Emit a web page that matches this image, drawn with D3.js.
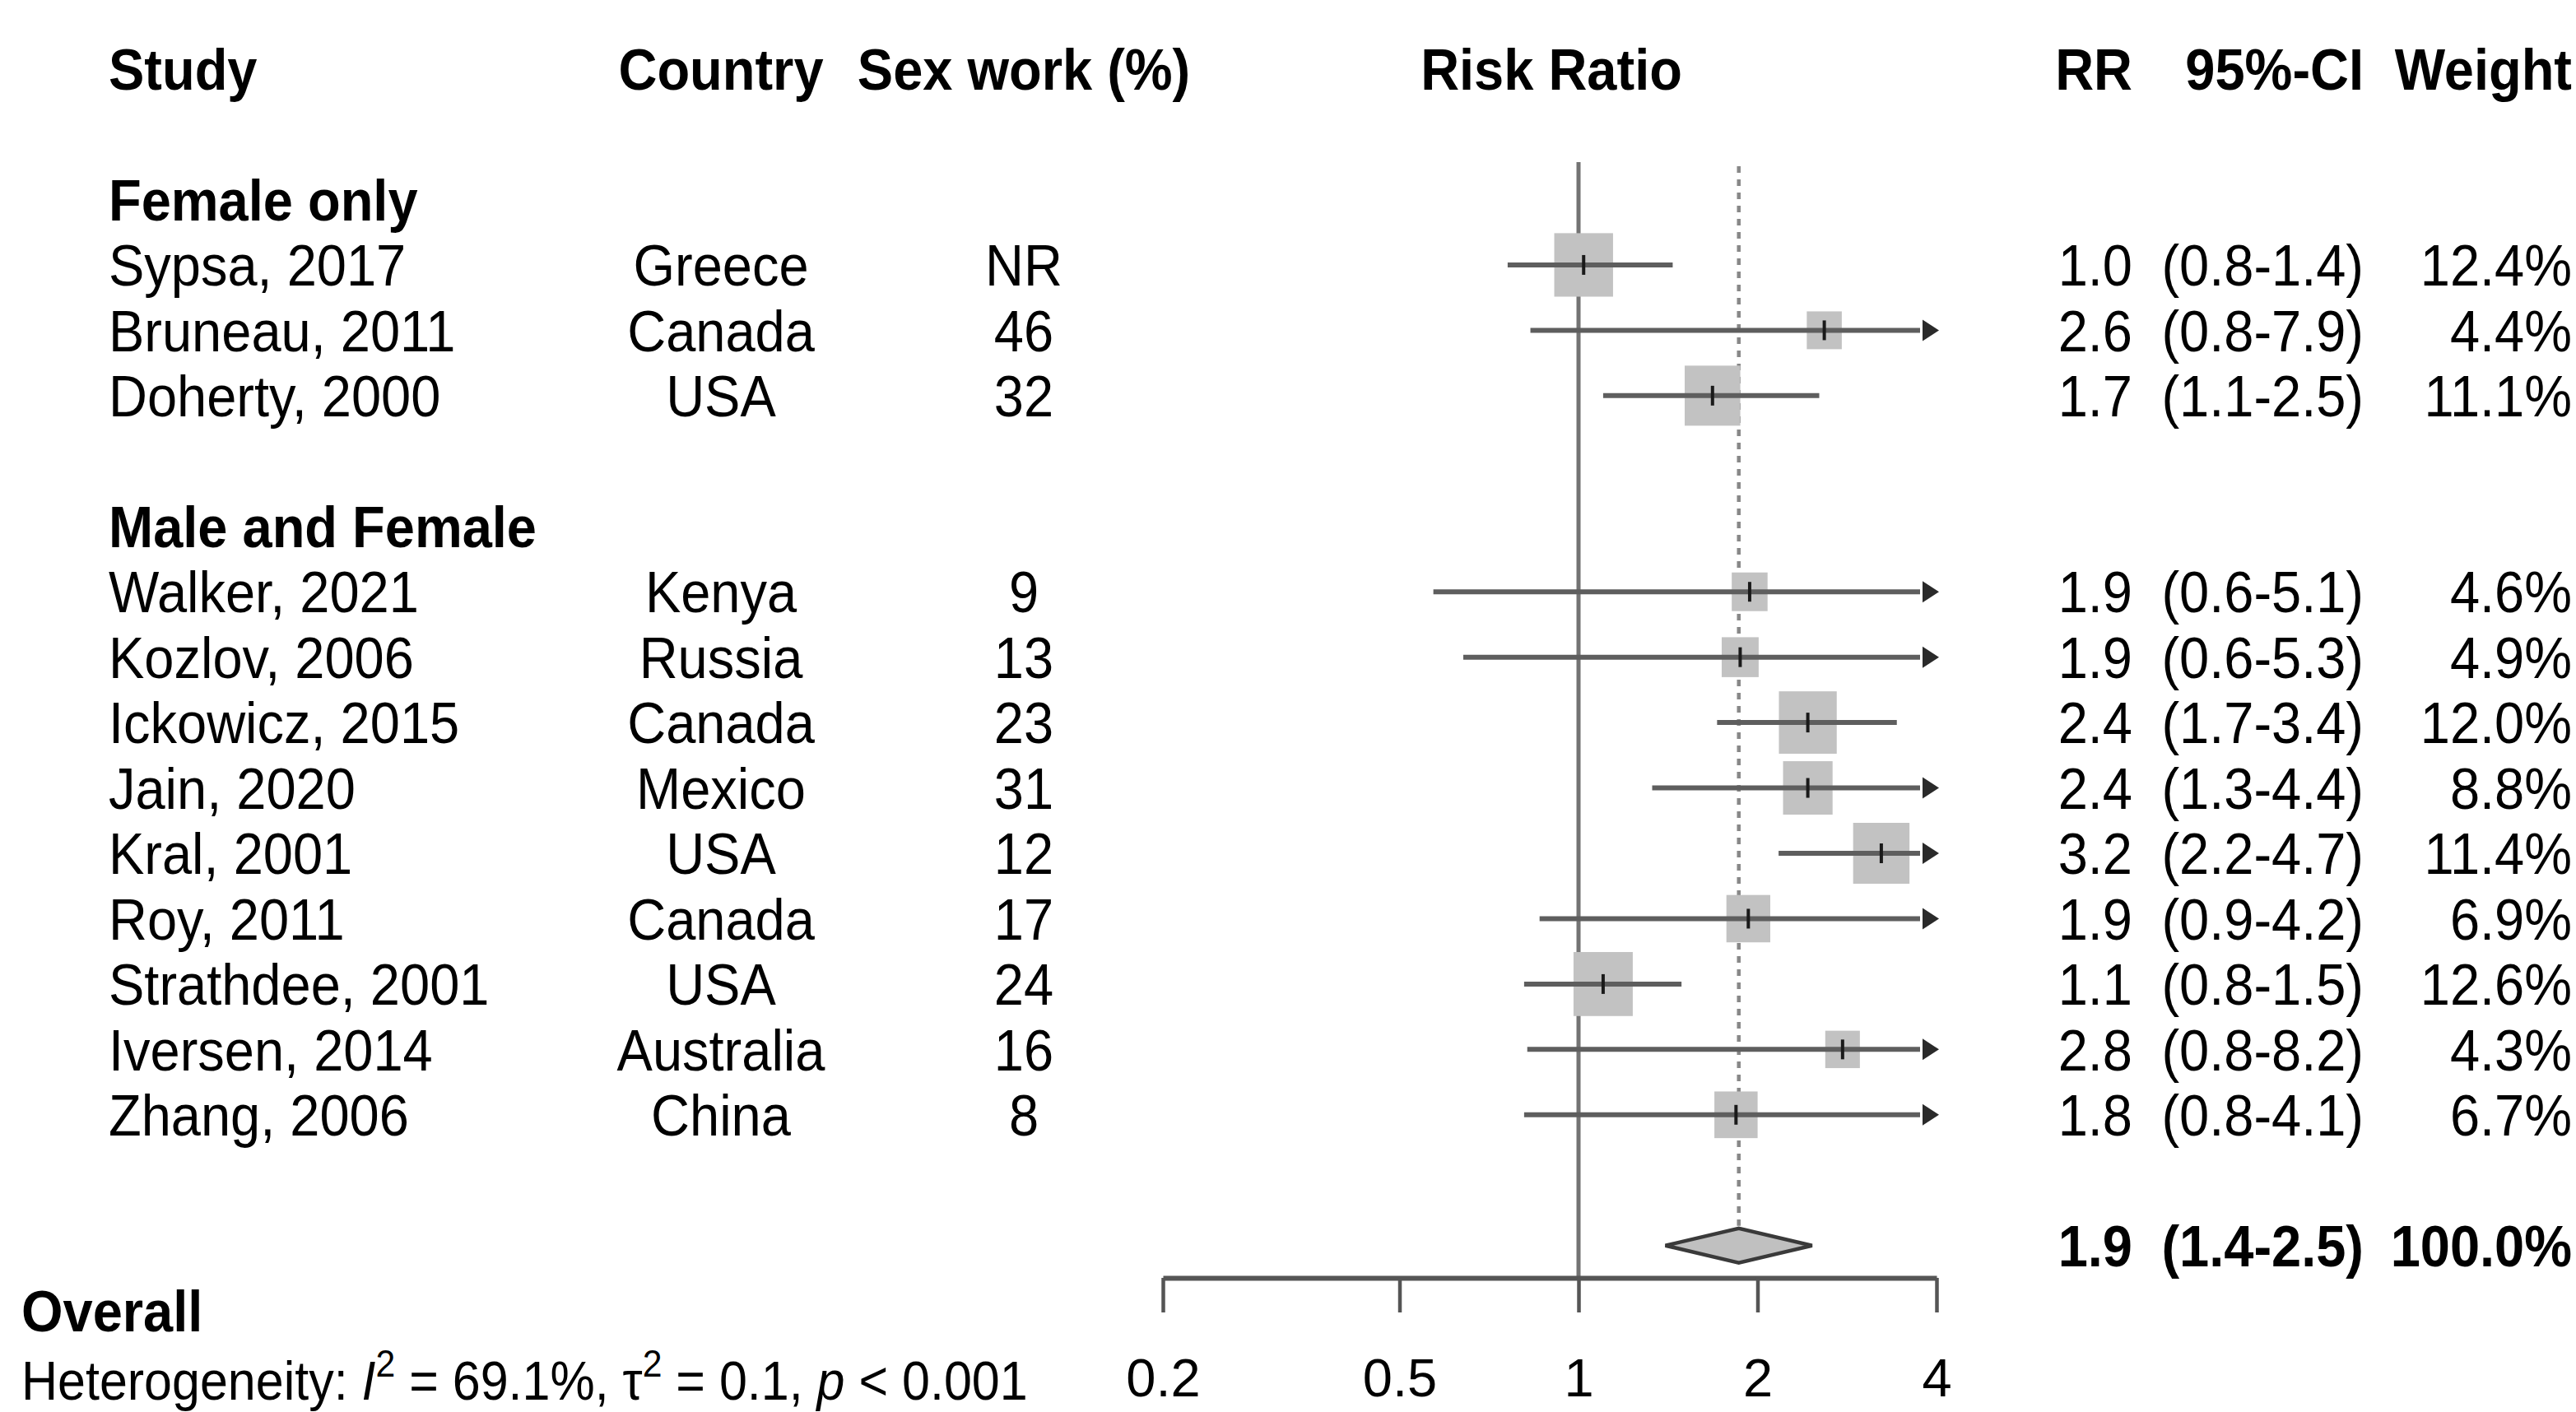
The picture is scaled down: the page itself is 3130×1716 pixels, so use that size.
<!DOCTYPE html>
<html>
<head>
<meta charset="utf-8">
<script src="https://cdn.jsdelivr.net/npm/d3@7"></script>
<style>
  html, body { margin: 0; padding: 0; background: #fff; }
  svg { display: block; }
  text { font-family: "Liberation Sans", Arial, Helvetica, sans-serif; fill: #000; }
</style>
</head>
<body>
<svg id="chart" width="3130" height="1716"></svg>
<script>
// Study rows (row index in the table layout, 0 = column header)
const groups = [
  { label: 'Female only', row: 2 },
  { label: 'Male and Female', row: 7 }
];
const studies = ['Sypsa, 2017', 'Bruneau, 2011', 'Doherty, 2000',
  'Walker, 2021', 'Kozlov, 2006', 'Ickowicz, 2015', 'Jain, 2020', 'Kral, 2001',
  'Roy, 2011', 'Strathdee, 2001', 'Iversen, 2014', 'Zhang, 2006'];
const studyRows = [3, 4, 5, 8, 9, 10, 11, 12, 13, 14, 15, 16];
const countries = ['Greece', 'Canada', 'USA', 'Kenya', 'Russia', 'Canada',
  'Mexico', 'USA', 'Canada', 'USA', 'Australia', 'China'];
const sexWork = ['NR', '46', '32', '9', '13', '23', '31', '12', '17', '24', '16', '8'];
const riskRatio = [1.02, 2.59, 1.68, 1.94, 1.87, 2.43, 2.43, 3.23, 1.93, 1.10, 2.78, 1.84];
const lower = [0.76, 0.83, 1.10, 0.57, 0.64, 1.71, 1.33, 2.17, 0.86, 0.81, 0.82, 0.81];
const upper = [1.44, 7.9, 2.54, 5.1, 5.3, 3.43, 4.4, 4.7, 4.2, 1.49, 8.2, 4.1];
const weights = [12.4, 4.4, 11.1, 4.6, 4.9, 12.0, 8.8, 11.4, 6.9, 12.6, 4.3, 6.7];

const overall = { rr: 1.86, lower: 1.40, upper: 2.47, weight: 100, row: 18 };
const xTicks = [0.2, 0.5, 1, 2, 4];

const headers = [
  { text: 'Study', col: 'study' },
  { text: 'Country', col: 'country' },
  { text: 'Sex work (%)', col: 'sex' },
  { text: 'Risk Ratio', col: 'plot' },
  { text: 'RR', col: 'rr' },
  { text: '95%-CI', col: 'ci' },
  { text: 'Weight', col: 'weight' }
];

// Layout
const W = 3130, H = 1716;
const FS = 65;          // font size in px
const STRETCH = 1.08;   // the source image is slightly taller than wide
const cols = {
  study: { x: 132, anchor: 'start' },
  country: { x: 876, anchor: 'middle' },
  sex: { x: 1244, anchor: 'middle' },
  plot: { x: 1885, anchor: 'middle' },
  rr: { x: 2591, anchor: 'end' },
  ci: { x: 2872, anchor: 'end' },
  weight: { x: 3125, anchor: 'end' }
};

const svg = d3.select('#chart');
svg.append('rect').attr('width', W).attr('height', H).attr('fill', '#fff');

const x = d3.scaleLog().domain([0.2, 4]).range([1413, 2353]);
const y = d3.scaleLinear().domain([0, 19]).range([83.6, 83.6 + 79.45 * 19]);
const side = d3.scaleSqrt().domain([0, 12.6]).range([0, 72]);
const f1 = d3.format('.1f');

// text placed by its vertical centre
function label(g, str, xPos, cy, anchor, bold, size) {
  const s = size || FS;
  return g.append('text')
    .attr('transform', `translate(${xPos},${cy + 0.36 * s * STRETCH}) scale(1,${STRETCH})`)
    .attr('text-anchor', anchor)
    .style('font-size', s + 'px')
    .style('font-weight', bold ? 'bold' : 'normal')
    .text(str);
}

const textG = svg.append('g').attr('class', 'table');

headers.forEach(h => label(textG, h.text, cols[h.col].x, y(0), cols[h.col].anchor, true));
groups.forEach(gr => label(textG, gr.label, cols.study.x, y(gr.row), 'start', true));

studies.forEach((s, i) => {
  const cy = y(studyRows[i]);
  label(textG, s, cols.study.x, cy, 'start', false);
  label(textG, countries[i], cols.country.x, cy, 'middle', false);
  label(textG, sexWork[i], cols.sex.x, cy, 'middle', false);
  label(textG, f1(riskRatio[i]), cols.rr.x, cy, 'end', false);
  label(textG, `(${f1(lower[i])}-${f1(upper[i])})`, cols.ci.x, cy, 'end', false);
  label(textG, f1(weights[i]) + '%', cols.weight.x, cy, 'end', false);
});

// overall row
const oy = y(overall.row);
label(textG, f1(overall.rr), cols.rr.x, oy, 'end', true);
label(textG, `(${f1(overall.lower)}-${f1(overall.upper)})`, cols.ci.x, oy, 'end', true);
label(textG, f1(overall.weight) + '%', cols.weight.x, oy, 'end', true);
label(textG, 'Overall', 26, y(19), 'start', true);

// heterogeneity line with italics and superscripts
const hs = 61;
const het = textG.append('text')
  .attr('transform', `translate(26,1701) scale(1,${STRETCH})`)
  .style('font-size', hs + 'px');
het.append('tspan').text('Heterogeneity: ');
het.append('tspan').style('font-style', 'italic').text('I');
het.append('tspan').attr('dy', -26).style('font-size', (hs * 0.7) + 'px').text('2');
het.append('tspan').attr('dy', 26).text(' = 69.1%, τ');
het.append('tspan').attr('dy', -26).style('font-size', (hs * 0.7) + 'px').text('2');
het.append('tspan').attr('dy', 26).text(' = 0.1, ');
het.append('tspan').style('font-style', 'italic').text('p');
het.append('tspan').text(' < 0.001');

// plot area
const plot = svg.append('g').attr('class', 'plot');

// reference lines: no effect (solid) and overall estimate (dotted)
plot.append('line')
  .attr('x1', x(1)).attr('x2', x(1))
  .attr('y1', 197).attr('y2', 1553)
  .attr('stroke', '#737373').attr('stroke-width', 5);
plot.append('line')
  .attr('x1', x(overall.rr)).attr('x2', x(overall.rr))
  .attr('y1', 202).attr('y2', y(overall.row) - 24)
  .attr('stroke', '#888').attr('stroke-width', 4.5)
  .attr('stroke-dasharray', '8,8');

// squares sized by weight
plot.selectAll('.sq')
  .data(studies)
  .enter().append('rect')
  .attr('class', 'sq')
  .attr('x', (d, i) => x(riskRatio[i]) - side(weights[i]) / 2)
  .attr('y', (d, i) => y(studyRows[i]) - side(weights[i]) * STRETCH / 2)
  .attr('width', (d, i) => side(weights[i]))
  .attr('height', (d, i) => side(weights[i]) * STRETCH)
  .attr('fill', '#c2c2c2');

const xmax = x.domain()[1];
const arrowLen = 20;

// confidence intervals
plot.selectAll('.ci')
  .data(studies)
  .enter().append('line')
  .attr('class', 'ci')
  .attr('x1', (d, i) => x(Math.max(lower[i], x.domain()[0])))
  .attr('x2', (d, i) => upper[i] > xmax ? x(xmax) - arrowLen : x(upper[i]))
  .attr('y1', (d, i) => y(studyRows[i]))
  .attr('y2', (d, i) => y(studyRows[i]))
  .attr('stroke', '#5e5e5e').attr('stroke-width', 6);

// arrows where the interval runs past the axis
plot.selectAll('.arrow')
  .data(studies.filter((d, i) => upper[i] > xmax))
  .enter().append('path')
  .attr('class', 'arrow')
  .attr('d', d => {
    const i = studies.indexOf(d);
    const cy = y(studyRows[i]);
    const xe = x(xmax) + 3;
    return `M${xe - arrowLen},${cy - 13}L${xe},${cy}L${xe - arrowLen},${cy + 13}Z`;
  })
  .attr('fill', '#2a2a2a');

// point estimates
plot.selectAll('.pt')
  .data(studies)
  .enter().append('line')
  .attr('class', 'pt')
  .attr('x1', (d, i) => x(riskRatio[i]))
  .attr('x2', (d, i) => x(riskRatio[i]))
  .attr('y1', (d, i) => y(studyRows[i]) - 12)
  .attr('y2', (d, i) => y(studyRows[i]) + 12)
  .attr('stroke', '#1a1a1a').attr('stroke-width', 4);

// pooled estimate diamond
const dh = 21;
plot.append('path')
  .attr('d', `M${x(overall.lower)},${oy}L${x(overall.rr)},${oy - dh}L${x(overall.upper)},${oy}L${x(overall.rr)},${oy + dh}Z`)
  .attr('fill', '#c0c0c0')
  .attr('stroke', '#3a3a3a')
  .attr('stroke-width', 4.5);

// x axis
const axis = plot.append('g')
  .attr('transform', 'translate(0,1553)')
  .call(d3.axisBottom(x)
    .tickValues(xTicks)
    .tickFormat(d3.format(''))
    .tickSize(42)
    .tickSizeOuter(0)
    .tickPadding(56));
axis.select('.domain').attr('stroke', '#555').attr('stroke-width', 6);
axis.selectAll('.tick line').attr('stroke', '#555').attr('stroke-width', 4.5);
axis.selectAll('.tick text')
  .attr('fill', '#000')
  .style('font-size', FS + 'px')
  .style('font-family', '"Liberation Sans", Arial, sans-serif');
</script>
</body>
</html>
